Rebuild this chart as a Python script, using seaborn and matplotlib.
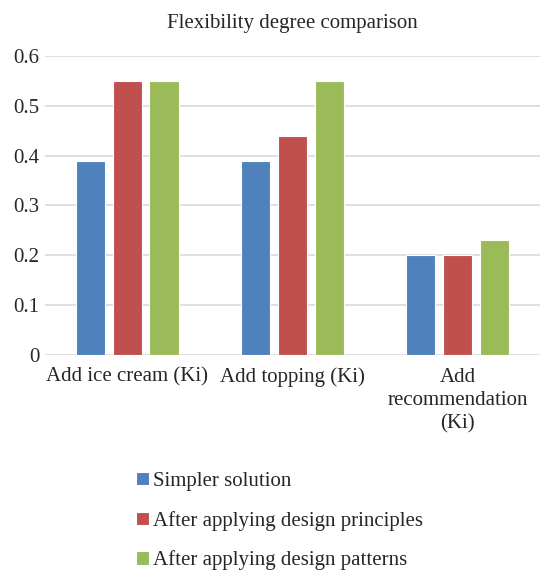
import matplotlib
matplotlib.use("Agg")
import matplotlib.pyplot as plt
import seaborn as sns
import pandas as pd

categories = ["Add ice cream (Ki)", "Add topping (Ki)", "Add\nrecommendation\n(Ki)"]
series_names = ["Simpler solution", "After applying design principles", "After applying design patterns"]
simpler = [0.39, 0.39, 0.20]
principles = [0.55, 0.44, 0.20]
patterns = [0.55, 0.55, 0.23]
y_ticks = [0, 0.1, 0.2, 0.3, 0.4, 0.5, 0.6]
y_tick_labels = ["0", "0.1", "0.2", "0.3", "0.4", "0.5", "0.6"]
colors = ["#4F81BD", "#C0504D", "#9BBB59"]

rows = []
for name, vals in zip(series_names, [simpler, principles, patterns]):
    for c, v in zip(categories, vals):
        rows.append({"cat": c, "series": name, "value": v})
df = pd.DataFrame(rows)

sns.set_style("white")
plt.rcParams["font.family"] = ["Liberation Serif", "DejaVu Serif"]

fig = plt.figure(figsize=(5.4, 5.7), dpi=100)
ax = fig.add_axes([0.083, 0.377, 0.917, 0.525])
sns.barplot(data=df, x="cat", y="value", hue="series", order=categories,
            hue_order=series_names, palette=colors, width=0.67, gap=0.2,
            saturation=1, ax=ax, edgecolor="white", linewidth=0.8, legend=True)

ax.set_ylim(0, 0.6)
ax.set_yticks(y_ticks)
ax.set_yticklabels(y_tick_labels, fontsize=15)
ax.tick_params(axis="x", labelsize=15, length=0, pad=9)
ax.tick_params(axis="y", length=0, pad=4)
for lab in ax.get_xticklabels():
    lab.set_linespacing(1.3)
ax.yaxis.grid(True, color="#d9d9d9", linewidth=1.2)
ax.set_axisbelow(True)
for s in ["top", "right", "left", "bottom"]:
    ax.spines[s].set_visible(False)
ax.set_xlabel("")
ax.set_ylabel("")
ax.set_xlim(-0.5, 2.5)
ax.set_title("Flexibility degree comparison", fontsize=15, pad=20)

handles, labels = ax.get_legend_handles_labels()
ax.get_legend().remove()
fig.legend(handles, labels, loc="upper left", bbox_to_anchor=(0.252, 0.172),
           frameon=False, fontsize=15, labelspacing=0.95, handlelength=0.6,
           handleheight=0.6, handletextpad=0.2, borderaxespad=0, borderpad=0)

fig.savefig("out.png", dpi=100)
